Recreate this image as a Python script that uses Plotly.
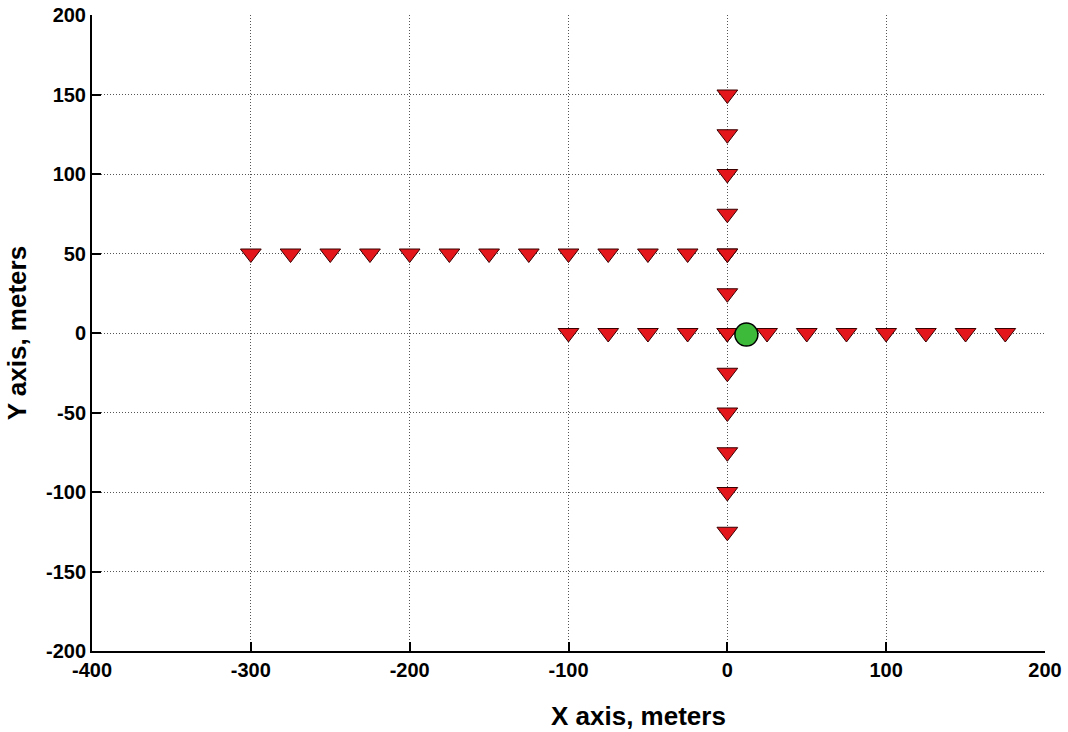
import plotly.graph_objects as go

# Sensor positions (red triangles)
row50_x = [-300, -275, -250, -225, -200, -175, -150, -125, -100, -75, -50, -25, 0]
row50_y = [50] * 13
row0_x = [-100, -75, -50, -25, 0, 25, 50, 75, 100, 125, 150, 175]
row0_y = [0] * 12
col_x = [0] * 12
col_y = [-125, -100, -75, -50, -25, 0, 25, 50, 75, 100, 125, 150]

# Source (green circle)
src_x = [12]
src_y = [-1]

x_ticks = [-400, -300, -200, -100, 0, 100, 200]
y_ticks = [-200, -150, -100, -50, 0, 50, 100, 150, 200]

sx = row50_x + row0_x + col_x
sy = row50_y + row0_y + col_y

FONT = "Liberation Sans, Arial, sans-serif"

fig = go.Figure()
fig.add_trace(go.Scatter(
    x=sx, y=sy, mode="markers",
    marker=dict(symbol="triangle-down", size=18, color="#e3161c",
                line=dict(color="#3a0000", width=1)),
    showlegend=False))
fig.add_trace(go.Scatter(
    x=src_x, y=src_y, mode="markers",
    marker=dict(symbol="circle", size=23, color="#3dba3a",
                line=dict(color="#000000", width=1.5)),
    showlegend=False))

axis_common = dict(
    showgrid=True, gridcolor="#555555", griddash="1px,2px", gridwidth=1,
    zeroline=False, showline=True, linecolor="black", linewidth=2,
    ticks="inside", ticklen=9, tickwidth=1.5, tickcolor="black",
    mirror=False, automargin=False,
    tickfont=dict(family=FONT, size=20, color="black"),
)

fig.update_layout(
    width=1068, height=732,
    margin=dict(l=92, r=23, t=15, b=81),
    plot_bgcolor="white", paper_bgcolor="white",
    font=dict(family=FONT, color="black"),
    xaxis=dict(range=[-400, 200], tickvals=x_ticks,
               ticktext=["<b>%d</b>" % v for v in x_ticks],
               **axis_common),
    yaxis=dict(range=[-200, 200], tickvals=y_ticks,
               ticktext=["<b>%d</b>" % v for v in y_ticks],
               **axis_common),
    annotations=[
        dict(text="<b>X axis, meters</b>", xref="paper", yref="paper",
             x=0.573, y=-0.1027, xanchor="center", yanchor="middle",
             showarrow=False, font=dict(family=FONT, size=26, color="black")),
        dict(text="<b>Y axis, meters</b>", xref="paper", yref="paper",
             x=-0.0784, y=0.5, xanchor="center", yanchor="middle", textangle=-90,
             showarrow=False, font=dict(family=FONT, size=26, color="black")),
    ],
)

fig.write_html("out.html")
